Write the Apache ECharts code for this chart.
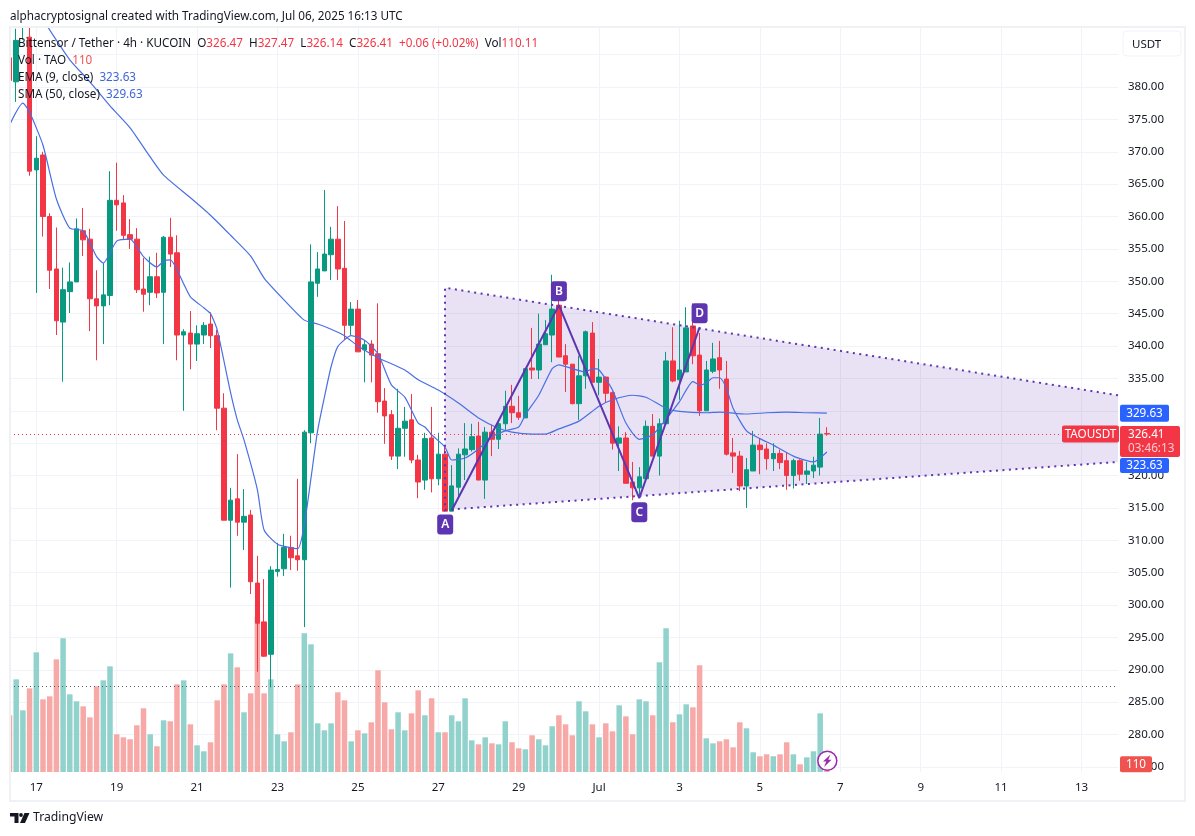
<!DOCTYPE html>
<html lang="en">

<head>
    <meta charset="UTF-8">
    <title>TAOUSDT 4h</title>
    <style>
        html, body { margin: 0; padding: 0; background: #fff; }
        #main { width: 1195px; height: 836px; }
    </style>
</head>

<body>
    <div id="main"></div>
    <script src="https://cdn.jsdelivr.net/npm/echarts@6/dist/echarts.min.js"></script>
    <script>
        // 4h candles, one entry per bar
        var opens = [
            384.5, 380.8, 390.5, 387.7, 367.2, 369.5, 360, 351.9, 343.7, 348.4,
            349.9, 357.8, 356.5, 347.3, 346.2, 347.8, 362.5, 362.1, 357.2, 356.5,
            348.8, 348.3, 350.7, 348.3, 356.8, 354.4, 341.7, 342, 340.3, 341.7,
            343.4, 341.6, 330.4, 313.1, 316.4, 312.8, 313.9, 303.4, 297.4, 292.4,
            305.2, 305.6, 308.9, 307.6, 307, 326.6, 349.7, 351.6, 354.1, 356.5,
            352, 343.2, 345.7, 339.4, 340.3, 338.8, 331.5, 329.4, 323, 327.3,
            328.6, 322.4, 319.3, 325.8, 319.5, 323.3, 314.5, 318.2, 323.2, 324,
            326.1, 319.3, 326.7, 325.6, 328, 330.7, 329.7, 328.9, 336.6, 336.3,
            340.2, 341.7, 346.3, 338.5, 337.2, 331.1, 335.4, 342, 334.4, 335.2,
            332.8, 325, 325.8, 319, 318.1, 319.5, 327.6, 323, 328, 337.7,
            334.8, 336, 343.1, 338.6, 330, 336.1, 338.2, 334.9, 323.5, 323,
            318.4, 320.7, 324.7, 324.1, 322.6, 323.4, 322.3, 320, 322.3, 320.2,
            320.7, 321.3, 326.47
        ];
        var closes = [
            381, 387.2, 394, 367, 369, 360, 351.7, 343.9, 348.7, 349.9,
            358.1, 356.4, 347.3, 346.2, 347.9, 362.5, 361.8, 357.1, 356.5, 348.7,
            348, 350.7, 348.2, 356.8, 354.2, 341.7, 342.2, 340.3, 341.9, 343.2,
            341.6, 330.4, 313.1, 316.2, 312.8, 313.7, 303.6, 297.2, 292.1, 305.4,
            305.5, 308.9, 307.3, 307, 326.7, 349.9, 351.9, 354.2, 356.5, 351.9,
            343.2, 345.7, 339.1, 340.2, 338.6, 331.4, 329.2, 323, 327.3, 328.4,
            322.4, 319, 325.7, 319.5, 323.3, 314.5, 318.4, 323.3, 324.1, 326,
            319.3, 326.7, 325.6, 328, 330.7, 329.7, 329, 336.5, 336.3, 340.3,
            341.9, 345.7, 338.3, 337.2, 331.1, 335.4, 342.2, 334.4, 335.2, 332.7,
            325, 325.8, 318.8, 318.1, 319.8, 327.6, 323, 328, 337.7, 334.6,
            336.3, 342.8, 338.5, 330, 336.3, 338, 336.3, 323.3, 323, 318.4,
            320.9, 324.7, 324, 322.6, 323.4, 322, 320, 322.3, 320.2, 320.7,
            321.6, 326.4, 326.41
        ];
        var lows = [
            381, 377.7, 387.3, 366.3, 348.2, 356.9, 348.8, 341.7, 334.5, 345.1,
            349.9, 353.9, 342.3, 337.8, 340.3, 346.3, 357.8, 356.5, 355, 348.2,
            345.3, 346.3, 347.4, 340.3, 352.2, 337.8, 330, 336.4, 337.7, 340.3,
            339.7, 327, 313.1, 302.7, 310.7, 308.5, 301.7, 289.7, 292, 287.3,
            304.4, 304.5, 305.4, 305.3, 296.6, 325, 347.6, 351.6, 350.2, 350.2,
            340.9, 341.7, 339.1, 334.4, 334.4, 329.7, 324.9, 322.4, 321, 322.9,
            321.9, 316.5, 317.8, 317.4, 318.5, 314.4, 314.5, 316.7, 319.3, 323.7,
            319.3, 316.4, 323, 324.1, 327, 328.1, 328.6, 328.9, 334.9, 334.9,
            340.2, 337.5, 338.3, 332.9, 331, 328.6, 333.4, 334.4, 332.4, 331.2,
            324, 320.7, 318.8, 316.2, 316.7, 319.5, 323, 320, 328, 334.4,
            331.7, 336, 337.2, 329.2, 330, 335.8, 333.4, 323.1, 320.4, 317.6,
            315, 320.7, 320.2, 320.9, 320.7, 321, 317.8, 318, 319.2, 318.7,
            319.6, 320, 326.14
        ];
        var highs = [
            384.5, 389, 396, 391, 372.4, 370, 360.5, 358.3, 352.1, 352.9,
            359.7, 361.3, 358.1, 351.7, 352.8, 367, 368.3, 363.3, 359.6, 358.2,
            353.6, 353.8, 354.4, 357, 359.8, 357.1, 342.6, 345.4, 343.2, 343.7,
            345.2, 342.5, 332.7, 318.1, 323.3, 317.9, 314.7, 307.6, 304, 306,
            309.6, 311, 310.7, 319.5, 327, 355.7, 354.5, 364.1, 358.4, 361.6,
            359.3, 346.8, 347.1, 340.9, 340.9, 346.6, 333.5, 330.1, 333.4, 330.6,
            332.6, 323.2, 326.6, 330.6, 326.6, 324.4, 321.6, 324.2, 328.1, 328,
            328.3, 327.5, 327.8, 328.6, 333.1, 334, 332.3, 336.5, 342.8, 345,
            344, 351, 347.6, 340.3, 337.2, 338.5, 342.4, 343.7, 338, 335.3,
            333, 327.6, 326.7, 322.1, 321.3, 328.5, 329.5, 328.8, 339.1, 342.9,
            343.9, 346, 346.6, 342, 337.7, 340.5, 340.8, 337.7, 325.8, 323.8,
            322.7, 326.9, 325.8, 325, 325, 324, 323.5, 322.6, 322.5, 322.1,
            322.9, 328.9, 327.47
        ];
        var volumes = [
            811, 1325, 882, 1196, 1711, 1039, 1082, 1611, 1911, 1111,
            1011, 939, 782, 1225, 1311, 1511, 539, 496, 468, 668,
            911, 539, 368, 739, 725, 1254, 1311, 682, 382, 296,
            425, 1025, 1254, 1697, 1497, 854, 1125, 2216, 1125, 1325,
            539, 439, 568, 1254, 1983, 1826, 696, 596, 696, 1140,
            1025, 439, 596, 553, 711, 1454, 997, 611, 854, 596,
            839, 1168, 811, 1054, 568, 568, 811, 725, 1054, 453,
            396, 496, 410, 396, 725, 425, 339, 325, 525, 468,
            382, 654, 811, 682, 525, 1011, 868, 682, 496, 696,
            582, 954, 796, 539, 1039, 1011, 811, 1569, 2055, 711,
            825, 968, 925, 1526, 482, 410, 439, 468, 353, 711,
            625, 282, 225, 253, 225, 253, 425, 253, 110, 210,
            296, 839, 110
        ];

        // moving averages: bar number and value at the places where the line bends
        var smaBars = [5, 9, 12, 15, 18, 21, 23, 27, 30, 33, 36, 38, 41, 44, 46, 48, 50, 52, 55, 59, 61, 64, 67, 70, 73, 75, 78, 80, 82, 85, 88, 90, 93, 95, 98, 100, 104, 106, 110, 113, 116, 119, 122];
        var smaValues = [390.4, 384.2, 380.8, 377.1, 373.7, 369.2, 366.4, 362.9, 360.2, 357.1, 353.9, 350.5, 347.1, 344, 343.4, 342.6, 341.6, 340, 338.2, 336.3, 334.8, 333.2, 331.2, 328.9, 327.3, 326.7, 326.4, 326.4, 327.2, 328.4, 330.7, 331.7, 332.4, 332.1, 330.4, 329.9, 329.7, 329.8, 329.5, 329.7, 329.8, 329.7, 329.63];
        var emaBars = [0, 2, 3, 5, 7, 9, 11, 13, 14, 16, 18, 20, 22, 23, 24, 26, 27, 29, 30, 31, 33, 34, 35, 37, 38, 40, 43, 44, 45, 46, 47, 48, 49, 51, 53, 55, 57, 59, 61, 62, 63, 65, 66, 68, 70, 72, 74, 76, 77, 79, 81, 82, 84, 86, 87, 88, 90, 92, 94, 96, 98, 100, 102, 103, 104, 105, 106, 107, 108, 110, 112, 114, 117, 119, 120, 122];
        var emaValues = [374.1, 377.5, 376.1, 371, 362.7, 358.2, 357.8, 353.8, 352.8, 356.2, 356.5, 353.8, 352.2, 353.1, 353.3, 349.6, 347.6, 345.9, 345, 342.5, 332.8, 328.6, 325.5, 317.8, 311.6, 309.4, 308.7, 312.4, 319.6, 327, 332.1, 336.8, 339.9, 341.6, 340.9, 338.8, 334, 332.1, 328.1, 327.5, 326.3, 324.4, 322.4, 322.7, 324.1, 326, 326.9, 327.5, 329.4, 332.4, 336.5, 337.1, 336.5, 336, 336.5, 336.3, 333.2, 328.1, 325.6, 326.3, 328.7, 331.4, 334.5, 334, 334.3, 335.1, 335.1, 333.5, 330.4, 326.9, 325.7, 324.7, 323, 322.3, 322.1, 323.63];

        // drawn pattern
        var wedgeBars = [65, 165.45, 165.45, 65];
        var wedgePrices = [349, 332.4, 322.1, 314.7];
        var abcdLabels = ['A', 'B', 'C', 'D'];
        var abcdBars = [66, 82, 94, 103];
        var abcdPrices = [314.6, 346.3, 316.5, 342.9];

        // axes
        var priceTicks = [275, 280, 285, 290, 295, 300, 305, 310, 315, 320, 325, 330, 335, 340, 345, 350, 355, 360, 365, 370, 375, 380];
        var priceGridTicks = priceTicks.concat([385]);
        var dayBars = [4, 16, 28, 40, 52, 64, 76, 88, 100, 112, 124, 136, 148, 160];
        var dayLabels = ['17', '19', '21', '23', '25', '27', '29', 'Jul', '3', '5', '7', '9', '11', '13'];

        var lastPrice = 326.41;
        var volumeAvgPrice = 287.4;
        var xMin = 0.075, xMax = 165.45;

        var RED = '#f23645', GREEN = '#089981', BLUE = '#2962ff', PURPLE = '#5e35b1';
        var FONT = '"Noto Sans", sans-serif';
        var TEXT_FONT = '11.7px ' + FONT;

        var candleData = [], volumeData = [], smaData = [], emaData = [];
        for (var i = 0; i < opens.length; i++) {
            candleData.push([i, opens[i], closes[i], lows[i], highs[i]]);
            volumeData.push({
                value: [i, volumes[i]],
                itemStyle: { color: closes[i] < opens[i] ? '#f7a9a7' : '#92d2cc' }
            });
        }
        for (var i = 0; i < smaBars.length; i++) smaData.push([smaBars[i], smaValues[i]]);
        for (var i = 0; i < emaBars.length; i++) emaData.push([emaBars[i], emaValues[i]]);

        // labels sitting on the price scale: value, text, colour
        function tagItem(api, color, x0, w, h, dy, text, extra) {
            var p = api.coord([xMax, api.value(1)]);
            var children = [{
                type: 'rect',
                shape: { x: p[0] + x0, y: p[1] + dy - h / 2, width: w, height: h, r: 2 },
                style: { fill: color }
            }, {
                type: 'text',
                style: {
                    x: p[0] + x0 + w / 2, y: p[1] + dy + 0.5, text: text, fill: '#fff',
                    font: '11.7px ' + FONT, align: 'center', verticalAlign: 'middle'
                }
            }];
            return { type: 'group', children: extra ? children.concat(extra(p)) : children };
        }
        function tagSeries(value, yIndex, color, x0, w, h, dy, text, extra) {
            return {
                type: 'custom',
                xAxisIndex: 0,
                yAxisIndex: yIndex,
                clip: false,
                silent: true,
                z: 12,
                data: [[xMax, value]],
                renderItem: function (params, api) {
                    return tagItem(api, color, x0, w, h, dy, text, extra);
                }
            };
        }

        var myChart = echarts.init(document.getElementById('main'));

        var option = {
            animation: false,
            backgroundColor: '#fff',
            textStyle: { fontFamily: FONT },
            grid: { left: 10, right: 77, top: 27, bottom: 64, containLabel: false },
            xAxis: {
                type: 'value',
                min: xMin,
                max: xMax,
                axisLine: { show: false },
                axisTick: { show: false, customValues: dayBars },
                axisLabel: {
                    customValues: dayBars,
                    color: '#131722',
                    fontSize: 11.5,
                    margin: 10,
                    formatter: function (v) { return dayLabels[dayBars.indexOf(v)]; }
                },
                splitLine: { show: true, lineStyle: { color: '#f0f3f7', width: 1 } }
            },
            yAxis: [{
                type: 'value',
                position: 'right',
                min: 274.22,
                max: 389.265,
                axisLine: { show: false },
                axisTick: { show: false, customValues: priceGridTicks },
                axisLabel: {
                    customValues: priceTicks,
                    color: '#131722',
                    fontSize: 11.5,
                    margin: 10,
                    padding: [2, 0, 0, 0],
                    formatter: function (v) { return v.toFixed(2); }
                },
                splitLine: { show: true, lineStyle: { color: '#f0f3f7', width: 1 } }
            }, {
                type: 'value',
                min: 0,
                max: 10654,
                show: false,
                splitLine: { show: false }
            }],
            series: [{
                // pattern area under the candles
                type: 'custom',
                silent: true,
                z: 1,
                data: [[0, 0]],
                renderItem: function (params, api) {
                    var pts = [];
                    for (var k = 0; k < wedgeBars.length; k++) pts.push(api.coord([wedgeBars[k], wedgePrices[k]]));
                    return {
                        type: 'polygon',
                        shape: { points: pts },
                        style: { fill: 'rgba(103,58,183,0.15)', stroke: null }
                    };
                }
            }, {
                type: 'bar',
                yAxisIndex: 1,
                barWidth: 5.5,
                silent: true,
                z: 1.5,
                data: volumeData
            }, {
                type: 'candlestick',
                barWidth: 5,
                silent: true,
                z: 3,
                itemStyle: { color: GREEN, color0: RED, borderColor: GREEN, borderColor0: RED, borderWidth: 1 },
                data: candleData,
                markLine: {
                    silent: true,
                    symbol: 'none',
                    label: { show: false },
                    animation: false,
                    data: [
                        [{ coord: [xMin, lastPrice], lineStyle: { color: RED, type: [1, 3], width: 1 } }, { coord: [xMax, lastPrice] }],
                        [{ coord: [xMin, volumeAvgPrice], lineStyle: { color: '#555c68', type: [1, 3], width: 1 } }, { coord: [xMax, volumeAvgPrice] }]
                    ]
                }
            }, {
                type: 'line',
                name: 'SMA',
                data: smaData,
                symbol: 'none',
                smooth: 0.2,
                silent: true,
                z: 4,
                lineStyle: { color: '#4a6fe3', width: 1.2 }
            }, {
                type: 'line',
                name: 'EMA',
                data: emaData,
                symbol: 'none',
                smooth: 0.2,
                silent: true,
                z: 4,
                lineStyle: { color: '#4a6fe3', width: 1.2 }
            }, {
                // dotted outline of the pattern, open on the right edge
                type: 'custom',
                silent: true,
                z: 5,
                data: [[0, 0]],
                renderItem: function (params, api) {
                    var pts = [];
                    for (var k = 0; k < wedgeBars.length; k++) pts.push(api.coord([wedgeBars[k], wedgePrices[k]]));
                    var dotted = { stroke: PURPLE, lineWidth: 2, lineDash: [2, 4.5], fill: null };
                    return {
                        type: 'group',
                        children: [
                            { type: 'polyline', shape: { points: [pts[1], pts[0], pts[3], pts[2]] }, style: dotted }
                        ]
                    };
                }
            }, {
                type: 'line',
                name: 'ABCD',
                data: abcdBars.map(function (b, k) { return [b, abcdPrices[k]]; }),
                symbol: 'none',
                silent: true,
                z: 6,
                lineStyle: { color: PURPLE, width: 2 }
            }, {
                // A B C D badges, above the peaks and below the troughs
                type: 'custom',
                silent: true,
                clip: false,
                z: 7,
                data: abcdBars.map(function (b, k) { return [b, abcdPrices[k], k]; }),
                renderItem: function (params, api) {
                    var p = api.coord([api.value(0), api.value(1)]);
                    var k = api.value(2);
                    var dy = k % 2 === 0 ? 14 : -14;
                    var dx = k === 0 ? -6.5 : 0;
                    return {
                        type: 'group',
                        children: [{
                            type: 'rect',
                            shape: { x: p[0] + dx - 8, y: p[1] + dy - 10, width: 16, height: 20, r: 3 },
                            style: { fill: PURPLE }
                        }, {
                            type: 'text',
                            style: {
                                x: p[0] + dx, y: p[1] + dy, text: abcdLabels[k], fill: '#fff',
                                font: '600 12px ' + FONT, align: 'center', verticalAlign: 'middle'
                            }
                        }]
                    };
                }
            },
            // right side labels
            tagSeries(lastPrice, 0, RED, -56, 57, 17, 0, 'TAOUSDT'),
            tagSeries(lastPrice, 0, RED, 2, 60, 31, 7.5, '', function (p) {
                return [{
                    type: 'text',
                    style: {
                        x: p[0] + 10, y: p[1] + 0.5, text: '326.41', fill: '#fff',
                        font: '11.7px ' + FONT, align: 'left', verticalAlign: 'middle'
                    }
                }, {
                    type: 'text',
                    style: {
                        x: p[0] + 10, y: p[1] + 15, text: '03:46:13', fill: 'rgba(255,255,255,0.75)',
                        font: '11.7px ' + FONT, align: 'left', verticalAlign: 'middle'
                    }
                }];
            }),
            tagSeries(329.63, 0, BLUE, 2, 49, 17, 0, '329.63'),
            tagSeries(323.63, 0, BLUE, 2, 49, 15, 13.5, '323.63'),
            tagSeries(110, 1, '#ef5350', 2, 32, 16, 0, '110')
            ],
            graphic: [
                // candles are not cut at the pane edge, so white strips hide what sticks out
                {
                    type: 'rect', z: 50, silent: true,
                    shape: { x: 0, y: 0, width: 1195, height: 27 },
                    style: { fill: '#fff' }
                },
                {
                    type: 'rect', z: 50, silent: true,
                    shape: { x: 0, y: 0, width: 10, height: 836 },
                    style: { fill: '#fff' }
                },
                // outer frame
                {
                    type: 'rect', z: 51, silent: true,
                    shape: { x: 10, y: 27, width: 1175, height: 774 },
                    style: { fill: null, stroke: '#f0f1f4', lineWidth: 2 }
                },
                // header
                {
                    type: 'text', left: 10, top: 11, z: 52, silent: true,
                    style: { text: 'alphacryptosignal created with TradingView.com, Jul 06, 2025 16:13 UTC', font: TEXT_FONT, fill: '#131722' }
                },
                // legend
                {
                    type: 'text', left: 18, top: 38, z: 100, silent: true,
                    style: {
                        text: 'Bittensor / Tether · 4h · KUCOIN  O{r|326.47}  H{r|327.47}  L{r|326.14}  C{r|326.41}  {r|+0.06 (+0.02%)}  Vol{r|110.11}',
                        font: TEXT_FONT, fill: '#131722',
                        rich: { r: { fill: RED, font: TEXT_FONT } }
                    }
                },
                {
                    type: 'text', left: 18, top: 55, z: 100, silent: true,
                    style: {
                        text: 'Vol · TAO  {r|110}', font: TEXT_FONT, fill: '#131722',
                        rich: { r: { fill: '#ef5350', font: TEXT_FONT } }
                    }
                },
                {
                    type: 'text', left: 18, top: 72, z: 100, silent: true,
                    style: {
                        text: 'EMA (9, close)  {b|323.63}', font: TEXT_FONT, fill: '#131722',
                        rich: { b: { fill: '#3f66d8', font: TEXT_FONT } }
                    }
                },
                {
                    type: 'text', left: 18, top: 89, z: 100, silent: true,
                    style: {
                        text: 'SMA (50, close)  {b|329.63}', font: TEXT_FONT, fill: '#131722',
                        rich: { b: { fill: '#3f66d8', font: TEXT_FONT } }
                    }
                },
                // currency button
                {
                    type: 'rect', z: 100, silent: true,
                    shape: { x: 1123, y: 31, width: 58, height: 25, r: 4 },
                    style: { fill: '#fff', stroke: '#f0f3f7', lineWidth: 1 }
                },
                {
                    type: 'text', z: 101, left: 1132, top: 39, silent: true,
                    style: { text: 'USDT', font: '11.5px ' + FONT, fill: '#131722' }
                },
                // lightning badge on the last bar
                {
                    type: 'circle', z: 100, silent: true,
                    shape: { cx: 827.3, cy: 760.7, r: 9.5 },
                    style: { fill: '#fff', stroke: '#9c27b0', lineWidth: 1.5 }
                },
                {
                    type: 'polygon', z: 101, silent: true,
                    shape: { points: [[830.5, 754.5], [823, 761.5], [826.3, 761.5], [824, 767], [831.5, 759.8], [828.2, 759.8]] },
                    style: { fill: '#9c27b0' }
                },
                // logo
                {
                    type: 'polygon', z: 100, silent: true,
                    shape: { points: [[10, 813], [18.5, 813], [18.5, 823], [14.5, 823], [14.5, 816.5], [10, 816.5]] },
                    style: { fill: '#131722' }
                },
                {
                    type: 'circle', z: 100, silent: true,
                    shape: { cx: 21, cy: 815, r: 1.9 },
                    style: { fill: '#131722' }
                },
                {
                    type: 'polygon', z: 100, silent: true,
                    shape: { points: [[24.5, 813], [29.5, 813], [25, 823], [20, 823]] },
                    style: { fill: '#131722' }
                },
                {
                    type: 'text', left: 33, top: 812, z: 100, silent: true,
                    style: { text: 'TradingView', font: '12.2px ' + FONT, fill: '#131722' }
                }
            ]
        };

        myChart.setOption(option);
    </script>

</body>

</html>
